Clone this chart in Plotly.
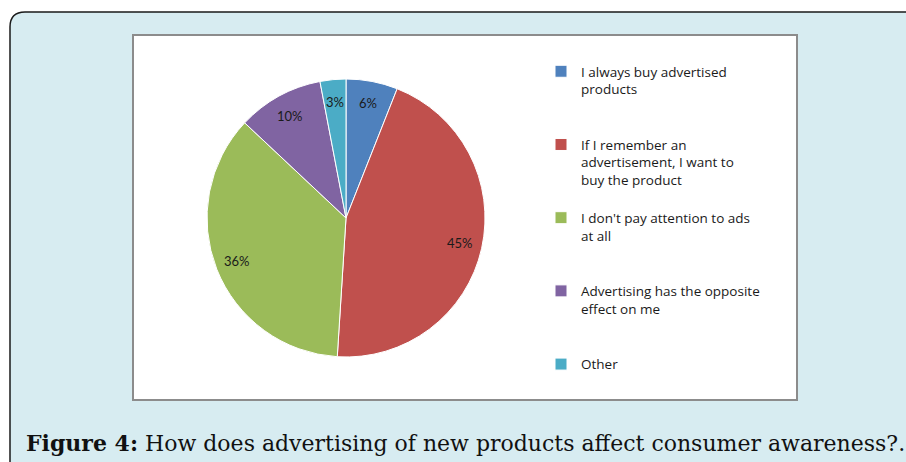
import math
import plotly.graph_objects as go

W, H = 906, 462

categories = [
    "I always buy advertised<br>products",
    "If I remember an<br>advertisement, I want to<br>buy the product",
    "I don't pay attention to ads<br>at all",
    "Advertising has the opposite<br>effect on me",
    "Other",
]
values = [6, 45, 36, 10, 3]
colors = ["#4f81bd", "#c0504d", "#9bbb59", "#8064a2", "#4bacc6"]
caption_bold = "Figure 4:"
caption_text = "How does advertising of new products affect consumer awareness?."


def px(x):
    return x / W


def py(y):
    return 1 - y / H


# pie geometry (pixels)
cx, cy, r = 346, 218, 139

# pad legend labels to 4 lines so entries are evenly spaced
legend_labels = []
for c in categories:
    n = c.count("<br>") + 1
    legend_labels.append(c + "<br> " * (4 - n))

fig = go.Figure()
fig.add_trace(go.Pie(
    labels=legend_labels,
    values=values,
    sort=False,
    direction="clockwise",
    rotation=0,
    marker=dict(colors=colors, line=dict(color="white", width=1)),
    textinfo="none",
    hoverinfo="label+percent",
    domain=dict(x=[px(cx - r), px(cx + r)], y=[py(cy + r), py(cy - r)]),
))

annotations = []
total = sum(values)
cum = 0
for v in values:
    f = (cum + v / 2) / total
    cum += v
    ang = math.radians(90 - 360 * f)
    rr = r * 0.84
    annotations.append(dict(
        x=px(cx + rr * math.cos(ang)), y=py(cy - rr * math.sin(ang)),
        xref="paper", yref="paper", showarrow=False,
        text=f"{round(100 * v / total)}%",
        font=dict(family="Lato", size=13, color="#1a1a1a"),
        xanchor="center", yanchor="middle",
    ))

annotations.append(dict(
    x=px(24), y=py(443), xref="paper", yref="paper", showarrow=False,
    xanchor="left", yanchor="middle",
    text=f"<b>{caption_bold}</b> {caption_text}",
    font=dict(family="DejaVu Serif", size=22, color="#111111"),
))

# rounded light-blue panel (extends beyond right/bottom edges)
x0, y0, rad = 10, 12, 15
panel_path = (
    f"M {px(x0)},{py(H + 20)} L {px(x0)},{py(y0 + rad)} "
    f"Q {px(x0)},{py(y0)} {px(x0 + rad)},{py(y0)} "
    f"L {px(W + 20)},{py(y0)} L {px(W + 20)},{py(H + 20)} Z"
)
shapes = [
    dict(type="path", path=panel_path, xref="paper", yref="paper",
         fillcolor="#d7ecf1", line=dict(color="#1a1a1a", width=1.5), layer="below"),
    dict(type="rect", xref="paper", yref="paper",
         x0=px(133), x1=px(797), y0=py(400), y1=py(35),
         fillcolor="white", line=dict(color="#8c8c8c", width=2), layer="below"),
]

fig.update_layout(
    width=W, height=H,
    margin=dict(l=0, r=0, t=0, b=0),
    paper_bgcolor="white",
    plot_bgcolor="white",
    showlegend=True,
    legend=dict(
        x=px(541), y=py(56), xanchor="left", yanchor="top",
        valign="top",
        font=dict(family="Open Sans", size=13.5, color="#1a1a1a"),
        bgcolor="rgba(0,0,0,0)",
    ),
    annotations=annotations,
    shapes=shapes,
)

fig.write_html("out.html")
